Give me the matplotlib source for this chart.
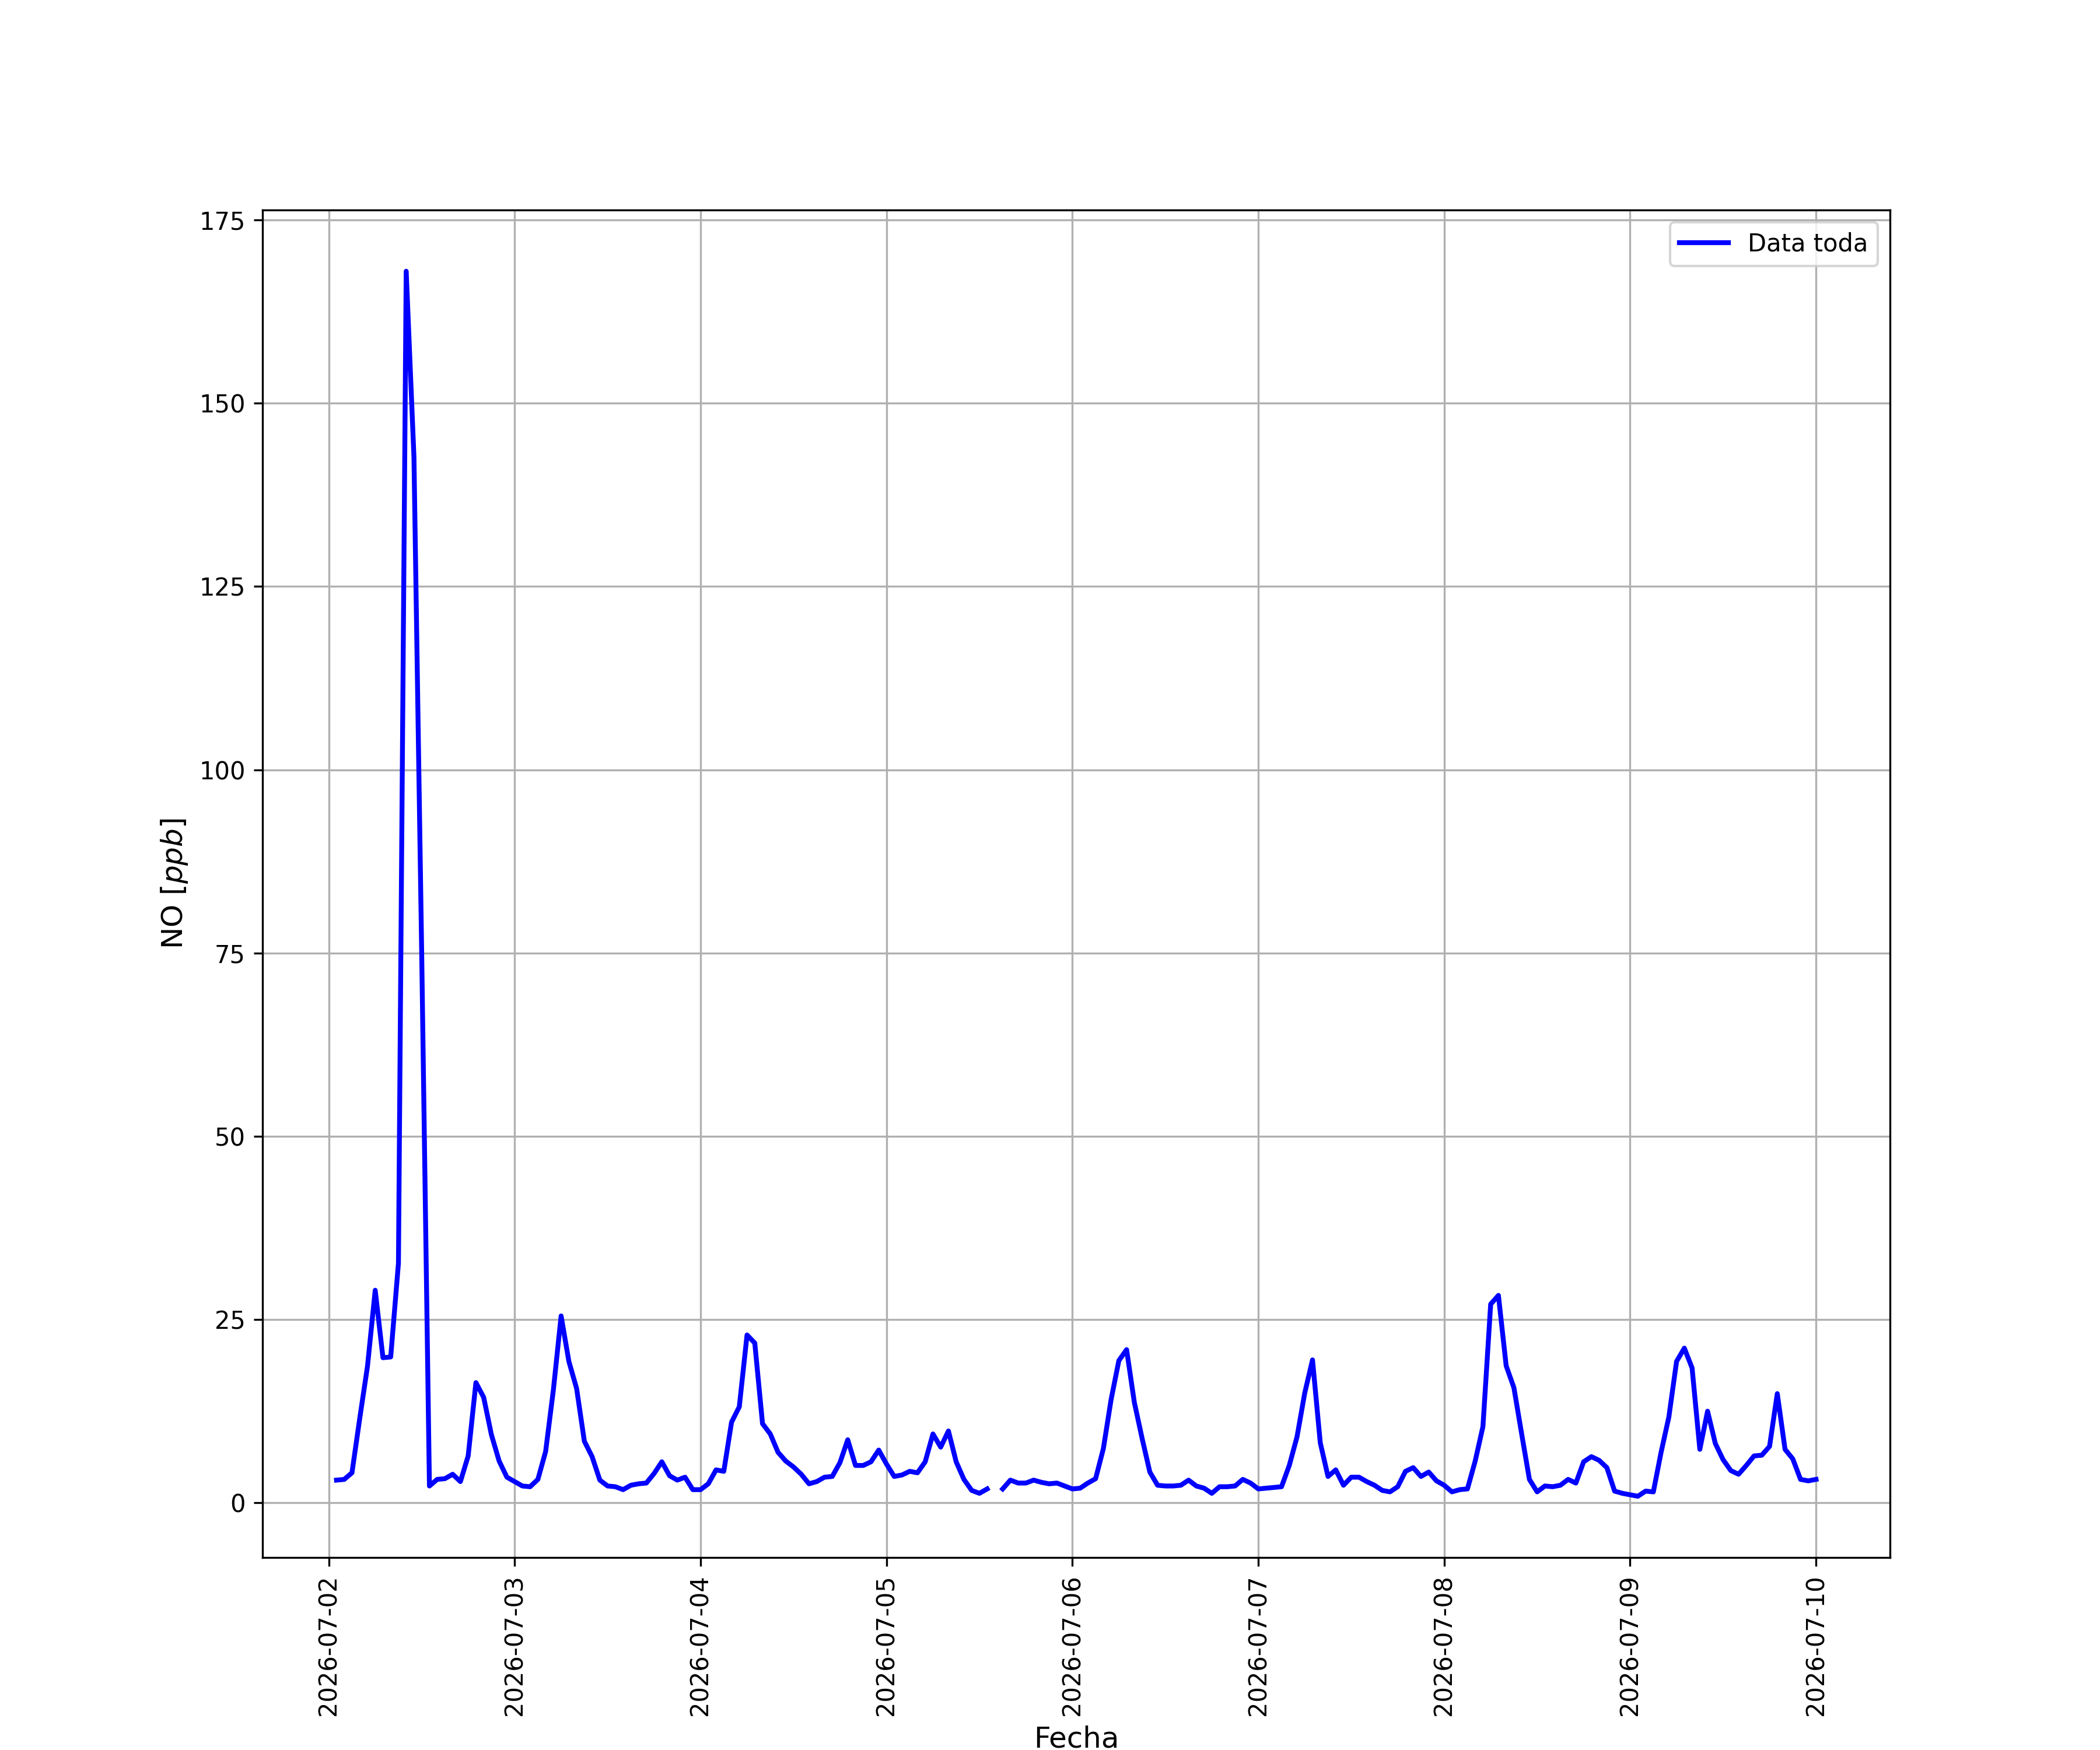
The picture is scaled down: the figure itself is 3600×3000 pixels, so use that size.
import matplotlib
matplotlib.use("Agg")
import matplotlib.pyplot as plt
import numpy as np
import pandas as pd

plt.rcParams["figure.dpi"] = 300
plt.rcParams["figure.figsize"] = (12, 10)

# hourly NO values, hour 01:00 .. 24:00 of each day
dia_02 = [3.1, 3.2, 4.1, 11.5, 18.6, 29.0, 19.8, 19.9, 32.7, 168.0, 142.7, 75.0,
          2.3, 3.2, 3.3, 3.9, 2.9, 6.4, 16.4, 14.4, 9.3, 5.7, 3.5, 2.9]
dia_03 = [2.3, 2.2, 3.2, 7.0, 15.4, 25.5, 19.3, 15.6, 8.4, 6.3, 3.1, 2.3,
          2.2, 1.8, 2.4, 2.6, 2.7, 4.0, 5.6, 3.7, 3.1, 3.5, 1.8, 1.8]
dia_04 = [2.6, 4.5, 4.3, 11.0, 13.1, 22.9, 21.8, 10.8, 9.4, 6.9, 5.7, 4.9,
          3.9, 2.6, 2.9, 3.5, 3.6, 5.5, 8.6, 5.1, 5.1, 5.6, 7.2, 5.3]
dia_05 = [3.6, 3.8, 4.3, 4.1, 5.6, 9.4, 7.6, 9.8, 5.6, 3.2, 1.7, 1.3,
          1.9, np.nan, 1.9, 3.1, 2.7, 2.7, 3.1, 2.8, 2.6, 2.7, 2.3, 1.9]
dia_06 = [2.0, 2.7, 3.3, 7.4, 14.1, 19.4, 20.9, 13.7, 8.8, 4.2, 2.4, 2.3,
          2.3, 2.4, 3.1, 2.3, 2.0, 1.3, 2.2, 2.2, 2.3, 3.2, 2.7, 1.9]
dia_07 = [2.0, 2.1, 2.2, 5.1, 9.0, 15.0, 19.5, 8.2, 3.6, 4.5, 2.4, 3.5,
          3.5, 2.9, 2.4, 1.7, 1.5, 2.2, 4.3, 4.8, 3.6, 4.2, 3.0, 2.4]
dia_08 = [1.5, 1.8, 1.9, 5.7, 10.4, 27.1, 28.3, 18.7, 15.7, 9.4, 3.2, 1.5,
          2.3, 2.2, 2.4, 3.2, 2.7, 5.6, 6.3, 5.8, 4.8, 1.6, 1.3, 1.1]
dia_09 = [0.9, 1.6, 1.5, 6.9, 11.7, 19.3, 21.1, 18.4, 7.3, 12.5, 8.1, 5.9,
          4.4, 3.9, 5.1, 6.4, 6.5, 7.7, 14.9, 7.3, 6.0, 3.2, 3.0, 3.2]

no = np.array(dia_02 + dia_03 + dia_04 + dia_05 + dia_06 + dia_07 + dia_08 + dia_09)
fechas = pd.date_range("2026-07-02 01:00", periods=len(no), freq="h")

fig = plt.figure()
plt.plot(fechas, no, 'b', lw=2, label='Data toda')
plt.legend(loc='upper right')
plt.grid(True)
plt.xticks(rotation=90)
plt.xlabel('Fecha', fontsize=12)
plt.ylabel(r'NO [$ppb$]', fontsize=12)
plt.savefig("out.png")
